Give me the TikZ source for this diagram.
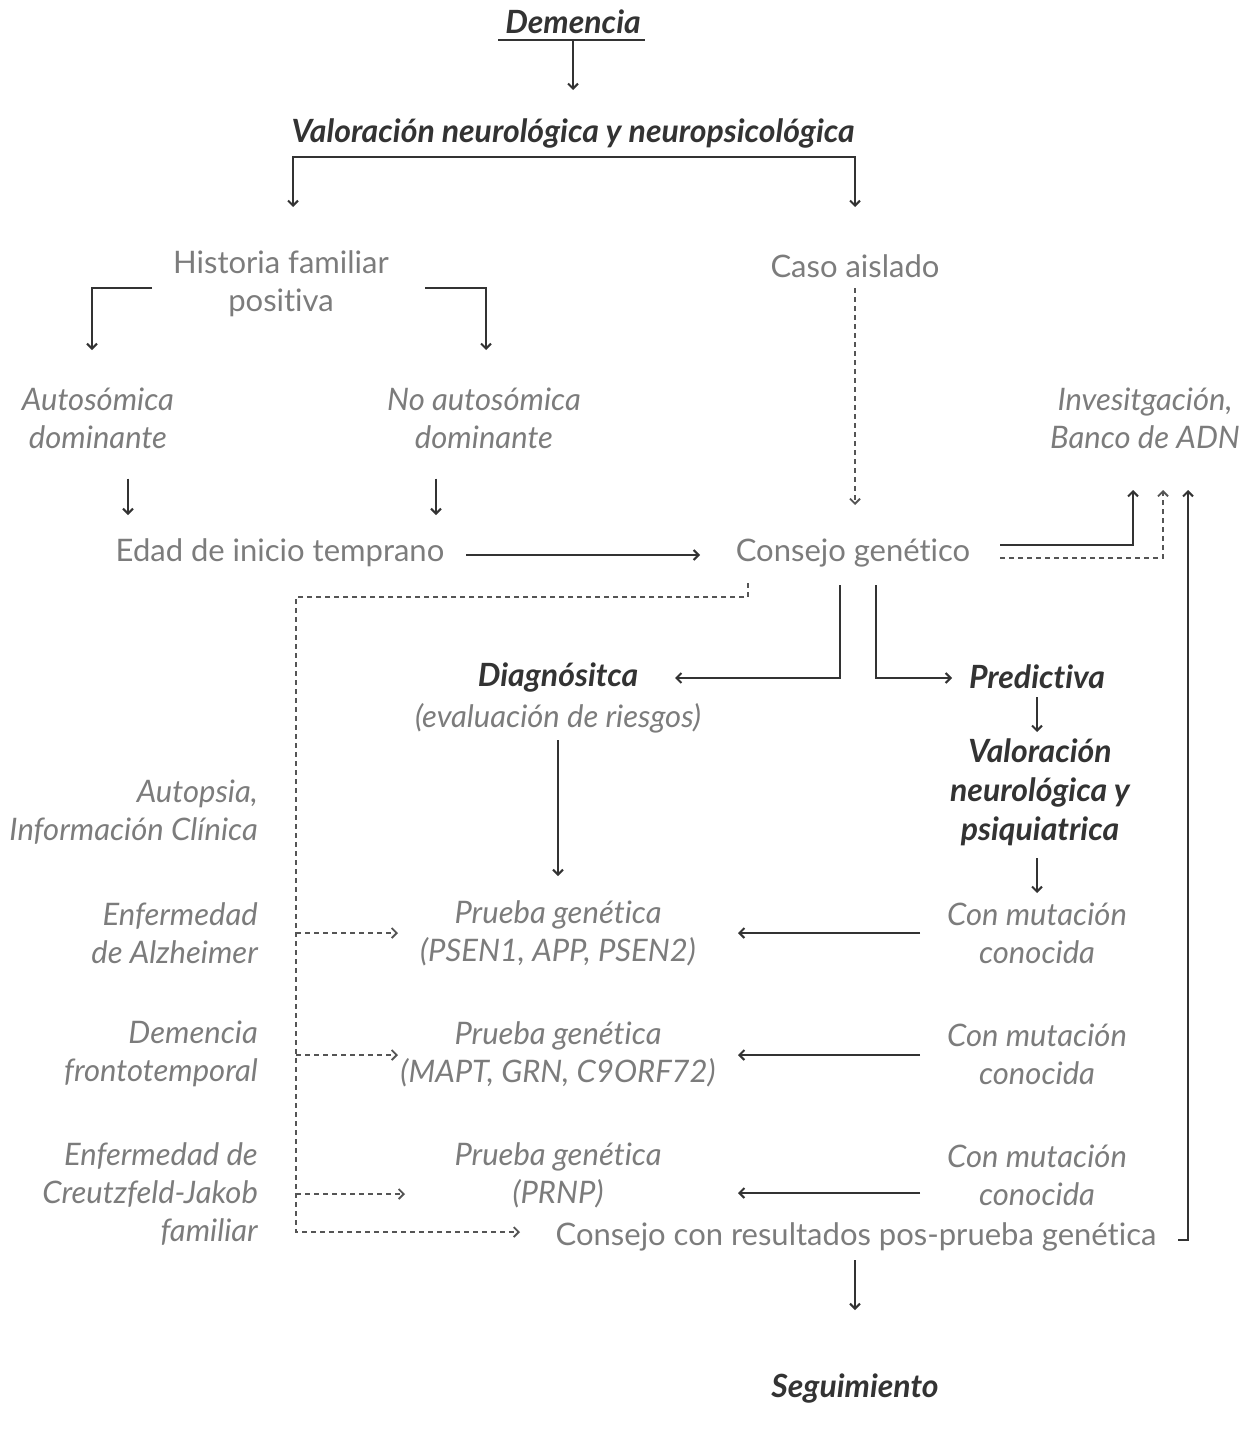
\documentclass[tikz,border=0pt]{standalone}
\usepackage{fontspec}
\setmainfont{Lato}[Ligatures=NoCommon]
\usetikzlibrary{arrows.meta}
\definecolor{dark}{HTML}{333333}
\definecolor{gr}{HTML}{7C7C7C}
\definecolor{dl}{HTML}{555555}
\tikzset{
  hd/.style={inner sep=0pt, align=center, text=dark, font=\fontsize{32}{39}\selectfont\bfseries\itshape},
  gt/.style={inner sep=0pt, align=center, text=gr, font=\fontsize{31}{38}\selectfont},
  gi/.style={inner sep=0pt, align=center, text=gr, font=\fontsize{31}{38}\selectfont\itshape},
  gir/.style={gi, align=right, anchor=east},
  ln/.style={draw=dark, line width=2pt},
  arr/.style={ln, -{Straight Barb[length=5pt,width=10pt]}},
  dsh/.style={draw=dl, line width=1.8pt, dash pattern=on 5pt off 4pt},
  darr/.style={dsh, -{Straight Barb[length=5pt,width=10pt]}}
}
\begin{document}
\begin{tikzpicture}[x=1pt,y=-1pt]
\useasboundingbox (0,0) rectangle (1254,1437);
% nodes
\node[hd] (demencia) at (573,22) {Demencia};
\node[hd] (valn) at (573,133) {Valoración neurológica y neuropsicológica};
\node[gt] (hist) at (281,284) {Historia familiar\\positiva};
\node[gt] (caso) at (855,266) {Caso aislado};
\node[gi] (auto) at (98,418) {Autosómica\\dominante};
\node[gi] (noauto) at (484,418) {No autosómica\\dominante};
\node[gi] (invest) at (1145,418) {Invesitgación,\\Banco de ADN};
\node[gt] (edad) at (280,553) {Edad de inicio temprano};
\node[gt] (consejo) at (853,553) {Consejo genético};
\node[hd] (diag) at (558,677) {Diagnósitca};
\node[gi] (evalr) at (558,718) {(evaluación de riesgos)};
\node[hd] (pred) at (1037,677) {Predictiva};
\node[hd] (valnp) at (1040,792) {Valoración\\neurológica y\\psiquiatrica};
\node[gir] (autopsia) at (258,812) {Autopsia,\\Información Clínica};
\node[gir] (alz) at (258,933) {Enfermedad\\de Alzheimer};
\node[gir] (ftd) at (258,1054) {Demencia\\frontotemporal};
\node[gir] (cjd) at (258,1194) {Enfermedad de\\Creutzfeld-Jakob\\familiar};
\node[gi] (pg1) at (558,933) {Prueba genética\\(PSEN1, APP, PSEN2)};
\node[gi] (pg2) at (558,1054) {Prueba genética\\(MAPT, GRN, C9ORF72)};
\node[gi] (pg3) at (558,1175) {Prueba genética\\(PRNP)};
\node[gi] (cm1) at (1037,933) {Con mutación\\conocida};
\node[gi] (cm2) at (1037,1054) {Con mutación\\conocida};
\node[gi] (cm3) at (1037,1175) {Con mutación\\conocida};
\node[gt] (cpos) at (856,1237) {Consejo con resultados pos-prueba genética};
\node[hd] (seg) at (855,1388) {Seguimiento};
% connectors
\draw[ln] (498,40) -- (645,40);
\draw[arr] (demencia.south |- 0,40) -- (demencia.south |- 0,90);
\draw[arr] (valn.south |- 0,157) -| (293,207);
\draw[arr] (valn.south |- 0,157) -| (caso.north |- 0,207);
\draw[arr] (152,288) -| (92,350);
\draw[arr] (425,288) -| (486,350);
\draw[darr] (caso.south |- 0,288) -- (caso.south |- 0,505);
\draw[arr] (auto.south -| 128,0) ++(0,30) -- (128,515);
\draw[arr] (noauto.south -| 436,0) ++(0,30) -- (436,515);
\draw[arr] (466,555) -- (700,555);
\draw[arr] (1000,545) -| (1133,490);
\draw[darr] (1000,558) -| (1163,490);
\draw[arr] (1178,1240) -| (1188,490);
\draw[darr] (748,583) |- (296,597) |- (520,1232);
\draw[darr] (296,933) -- (398,933);
\draw[darr] (296,1055) -- (398,1055);
\draw[darr] (296,1194) -- (405,1194);
\draw[arr] (840,585) |- (675,678);
\draw[arr] (876,585) |- (952,678);
\draw[arr] (pred.south |- 0,697) -- (pred.south |- 0,732);
\draw[arr] (1037,858) -- (1037,893);
\draw[arr] (evalr.south |- 0,740) -- (evalr.south |- 0,876);
\draw[arr] (920,933) -- (738,933);
\draw[arr] (920,1055) -- (738,1055);
\draw[arr] (920,1193) -- (738,1193);
\draw[arr] (855,1260) -- (855,1310);
\end{tikzpicture}
\end{document}
